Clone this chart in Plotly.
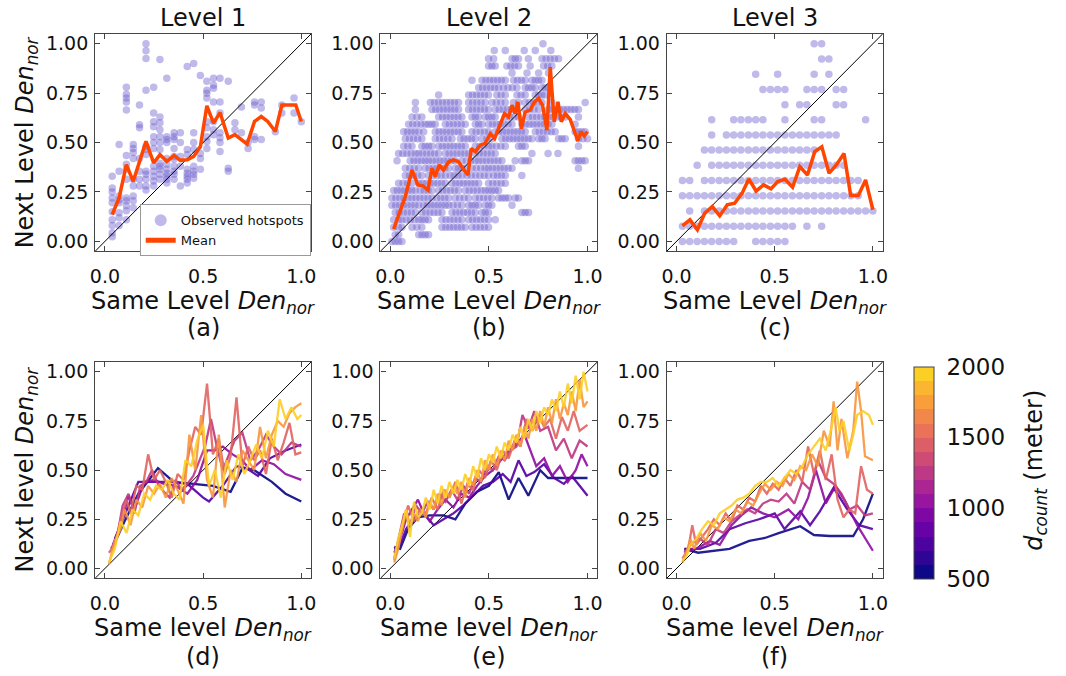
import numpy as np
import plotly.graph_objects as go
from plotly.colors import sample_colorscale

W, H = 1066, 676
FONT = "DejaVu Sans"

# ------------------------------------------------------------------ data
# (a) Level 1 observed hotspots: column x -> y values
A_COLS = {
    0.037: [0.33, 0.27, 0.25, 0.22, 0.195, 0.15, 0.11, 0.08, 0.044, 0.024],
    0.072: [0.49, 0.355, 0.23, 0.21, 0.195, 0.145, 0.12, 0.08],
    0.109: [0.78, 0.745, 0.725, 0.705, 0.665, 0.435, 0.39, 0.365, 0.315, 0.22, 0.205, 0.18, 0.155, 0.11],
    0.144: [0.49, 0.47, 0.45, 0.42, 0.315, 0.28, 0.23, 0.205, 0.17],
    0.176: [0.69, 0.59, 0.575, 0.42, 0.355, 0.315, 0.28],
    0.209: [1.0, 0.965, 0.925, 0.765, 0.48, 0.465, 0.44, 0.355, 0.34, 0.315, 0.28, 0.26],
    0.248: [0.78, 0.65, 0.605, 0.58, 0.53, 0.5, 0.47, 0.38, 0.355, 0.33, 0.305, 0.28],
    0.280: [0.92, 0.63, 0.6, 0.565, 0.53, 0.5, 0.465, 0.395, 0.38, 0.365, 0.34, 0.315],
    0.315: [0.825, 0.53, 0.515, 0.5, 0.42, 0.39, 0.365, 0.345, 0.33, 0.315, 0.295],
    0.352: [0.55, 0.53, 0.515, 0.47, 0.43, 0.415, 0.38, 0.355, 0.34, 0.315],
    0.384: [0.55, 0.5, 0.43, 0.38, 0.28],
    0.419: [0.885, 0.465, 0.44, 0.365, 0.345, 0.33, 0.315, 0.295],
    0.452: [0.9, 0.55, 0.5, 0.465, 0.38, 0.355, 0.34, 0.32],
    0.486: [0.84, 0.445, 0.42, 0.365],
    0.519: [0.81, 0.765, 0.75, 0.725, 0.605, 0.575, 0.53, 0.505, 0.47],
    0.553: [0.825, 0.79, 0.775, 0.705, 0.605, 0.565, 0.54],
    0.586: [0.825, 0.705, 0.65, 0.55, 0.525, 0.5, 0.455],
    0.628: [0.81, 0.37, 0.355],
    0.662: [0.6, 0.565],
    0.695: [0.68, 0.55],
    0.729: [0.5, 0.47],
    0.762: [0.705, 0.69, 0.53, 0.515],
    0.796: [0.705, 0.675, 0.515],
    0.868: [0.555],
    0.901: [0.69, 0.65],
    0.963: [0.725, 0.65],
    1.000: [0.605],
}
A_MEAN_X = [0.037, 0.072, 0.109, 0.144, 0.209, 0.248, 0.28, 0.315, 0.352, 0.384, 0.419, 0.452,
            0.486, 0.519, 0.553, 0.586, 0.628, 0.662, 0.724, 0.762, 0.796, 0.829, 0.868, 0.901, 0.972, 1.0]
A_MEAN_Y = [0.136, 0.22, 0.388, 0.304, 0.506, 0.397, 0.439, 0.405, 0.435, 0.41, 0.413, 0.43,
            0.48, 0.686, 0.598, 0.652, 0.523, 0.54, 0.492, 0.607, 0.632, 0.607, 0.556, 0.69, 0.69, 0.607]

# (b) Level 2 observed hotspots: row y -> runs of points (x_start, x_end), points spaced B_STEP apart
B_STEP = 0.02
B_ROWS = [
    (1.000, [(0.774, 0.774)]),
    (0.966, [(0.527, 0.527), (0.583, 0.583), (0.679, 0.679), (0.735, 0.735), (0.814, 0.814)]),
    (0.924, [(0.498, 0.524), (0.617, 0.650), (0.700, 0.700), (0.769, 0.853)]),
    (0.887, [(0.498, 0.532), (0.591, 0.650), (0.709, 0.709), (0.777, 0.819)]),
    (0.852, [(0.617, 0.617), (0.693, 0.693), (0.752, 0.752), (0.802, 0.802)]),
    (0.815, [(0.414, 0.414), (0.465, 0.583), (0.625, 0.684), (0.718, 0.769)]),
    (0.778, [(0.448, 0.549), (0.574, 0.642), (0.684, 0.735), (0.769, 0.802)]),
    (0.741, [(0.245, 0.245), (0.397, 0.498), (0.540, 0.583), (0.642, 0.684), (0.735, 0.785)]),
    (0.703, [(0.127, 0.127), (0.203, 0.346), (0.397, 0.481), (0.515, 0.583), (0.625, 0.650),
             (0.684, 0.769), (0.819, 0.819), (0.988, 0.988)]),
    (0.667, [(0.127, 0.127), (0.211, 0.346), (0.397, 0.498), (0.532, 0.633), (0.684, 0.752), (0.802, 0.954)]),
    (0.630, [(0.110, 0.160), (0.245, 0.363), (0.414, 0.448), (0.481, 0.532), (0.583, 0.650),
             (0.701, 0.887), (0.954, 0.954)]),
    (0.593, [(0.093, 0.177), (0.194, 0.228), (0.279, 0.380), (0.431, 0.465), (0.498, 0.617),
             (0.667, 0.819), (0.937, 0.937)]),
    (0.555, [(0.068, 0.144), (0.169, 0.169), (0.228, 0.363), (0.414, 0.498), (0.532, 0.684),
             (0.735, 0.836), (0.937, 0.988)]),
    (0.520, [(0.076, 0.160), (0.228, 0.313), (0.355, 0.431), (0.465, 0.515), (0.566, 0.718),
             (0.752, 0.785), (0.853, 0.887), (0.954, 1.000)]),
    (0.482, [(0.068, 0.110), (0.160, 0.211), (0.245, 0.380), (0.431, 0.498), (0.515, 0.583),
             (0.650, 0.684), (0.954, 0.954)]),
    (0.445, [(0.042, 0.127), (0.144, 0.245), (0.279, 0.397), (0.431, 0.532), (0.718, 0.718),
             (0.800, 0.800), (0.850, 0.850)]),
    (0.408, [(0.034, 0.034), (0.101, 0.177), (0.194, 0.329), (0.363, 0.431), (0.448, 0.566),
             (0.633, 0.633), (0.667, 0.701), (0.937, 0.988)]),
    (0.370, [(0.076, 0.144), (0.177, 0.296), (0.329, 0.380), (0.414, 0.481), (0.498, 0.617), (0.954, 0.954)]),
    (0.333, [(0.076, 0.160), (0.194, 0.279), (0.304, 0.363), (0.389, 0.498), (0.524, 0.583), (0.667, 0.667)]),
    (0.294, [(0.042, 0.110), (0.144, 0.279), (0.313, 0.448), (0.498, 0.583)]),
    (0.257, [(0.017, 0.127), (0.152, 0.211), (0.245, 0.346), (0.380, 0.481), (0.498, 0.549)]),
    (0.220, [(0.008, 0.211), (0.236, 0.296), (0.329, 0.397), (0.431, 0.515), (0.549, 0.600), (0.633, 0.650)]),
    (0.183, [(0.008, 0.144), (0.169, 0.279), (0.296, 0.363), (0.397, 0.448), (0.481, 0.515), (0.617, 0.617)]),
    (0.146, [(0.025, 0.127), (0.160, 0.262), (0.313, 0.431), (0.465, 0.498), (0.667, 0.701)]),
    (0.109, [(0.017, 0.042), (0.059, 0.144), (0.160, 0.194), (0.262, 0.363), (0.397, 0.498), (0.532, 0.532)]),
    (0.072, [(0.017, 0.017), (0.042, 0.059), (0.110, 0.160), (0.262, 0.380), (0.414, 0.498)]),
    (0.034, [(0.025, 0.042), (0.144, 0.194)]),
    (0.000, [(0.008, 0.059)]),
]
B_MEAN_X = [0.017, 0.042, 0.076, 0.11, 0.14, 0.166, 0.191, 0.211, 0.228, 0.248, 0.27, 0.296, 0.321,
            0.346, 0.367, 0.394, 0.41, 0.431, 0.456, 0.481, 0.507, 0.529, 0.552, 0.579, 0.6, 0.617,
            0.633, 0.647, 0.664, 0.684, 0.709, 0.731, 0.752, 0.772, 0.794, 0.811, 0.831, 0.85, 0.867,
            0.887, 0.912, 0.937, 0.951, 0.966, 0.983, 1.0]
B_MEAN_Y = [0.062, 0.129, 0.227, 0.361, 0.286, 0.281, 0.26, 0.37, 0.328, 0.387, 0.361, 0.403, 0.412,
            0.403, 0.37, 0.336, 0.47, 0.454, 0.487, 0.496, 0.546, 0.521, 0.58, 0.647, 0.63, 0.689,
            0.647, 0.706, 0.57, 0.655, 0.664, 0.706, 0.723, 0.689, 0.563, 0.882, 0.605, 0.706, 0.605,
            0.647, 0.617, 0.546, 0.509, 0.555, 0.534, 0.555]

# (c) Level 3 observed hotspots on a grid: column positions, row values, occupied columns per row
C_COL_X = [0.03, 0.067, 0.105, 0.142, 0.179, 0.217, 0.254, 0.291, 0.328, 0.366, 0.403, 0.44, 0.478,
           0.515, 0.552, 0.59, 0.627, 0.664, 0.701, 0.739, 0.776, 0.813, 0.851, 0.888, 0.925, 0.963, 1.0]
C_ROW_Y = [0.0, 0.077, 0.154, 0.231, 0.308, 0.385, 0.462, 0.538, 0.615, 0.692, 0.769, 0.846, 0.923, 1.0]
C_ROW_COLS = [
    [0, 1, 2, 3, 4, 5, 6, 7, 10, 11, 12, 13, 14],
    [0, 1, 2, 3, 4, 5, 6, 7, 8, 9, 10, 11, 12, 13, 14, 15, 17, 19],
    [1, 3, 4, 5, 6, 7, 8, 9, 10, 11, 12, 13, 14, 15, 16, 17, 18, 19, 20, 21, 22, 23, 24, 25, 26],
    [0, 1, 2, 3, 4, 5, 6, 7, 8, 9, 10, 11, 12, 13, 14, 15, 16, 17, 18, 19, 20, 21, 22, 23, 24],
    [0, 1, 3, 4, 5, 6, 7, 8, 9, 10, 11, 12, 13, 14, 15, 16, 17, 18, 19, 20, 21, 22, 23, 24],
    [2, 4, 5, 6, 7, 8, 9, 10, 11, 12, 13, 14, 15, 16, 17, 18, 19, 20, 21, 22],
    [3, 4, 5, 6, 7, 8, 9, 10, 11, 12, 13, 14, 15, 16, 17, 18],
    [4, 6, 7, 8, 9, 10, 11, 12, 13, 14, 15, 16, 17, 18, 19, 20, 21],
    [4, 7, 8, 9, 10, 11, 14, 18, 19, 25],
    [14, 16, 17, 21, 22],
    [11, 12, 13, 14, 17, 18, 19, 21, 22],
    [10, 13, 18, 20],
    [19, 20],
    [18, 19],
]
C_MEAN_X = [0.03, 0.068, 0.106, 0.144, 0.182, 0.22, 0.258, 0.296, 0.334, 0.368, 0.405, 0.443, 0.481,
            0.515, 0.552, 0.591, 0.628, 0.667, 0.704, 0.74, 0.777, 0.814, 0.853, 0.887, 0.926, 0.963, 1.0]
C_MEAN_Y = [0.079, 0.109, 0.059, 0.143, 0.176, 0.129, 0.185, 0.193, 0.244, 0.316, 0.255, 0.286, 0.266,
            0.303, 0.314, 0.274, 0.378, 0.336, 0.454, 0.479, 0.345, 0.387, 0.445, 0.232, 0.232, 0.311, 0.16]

# bottom row: mean curves per counting distance d_count (meter), (x, y) pairs
D_COUNTS = [500, 750, 1000, 1250, 1500, 1750, 2000]
D_LINES = {
    500: [(0.05, 0.13), (0.1, 0.24), (0.17, 0.38), (0.27, 0.51), (0.35, 0.44), (0.45, 0.43), (0.55, 0.42),
          (0.64, 0.39), (0.7, 0.51), (0.76, 0.5), (0.85, 0.44), (0.92, 0.38), (1.0, 0.34)],
    750: [(0.05, 0.15), (0.1, 0.27), (0.17, 0.44), (0.25, 0.44), (0.33, 0.44), (0.42, 0.43), (0.5, 0.36),
          (0.53, 0.34), (0.6, 0.42), (0.67, 0.52), (0.72, 0.51), (0.78, 0.47), (0.84, 0.56), (0.92, 0.6),
          (1.0, 0.63)],
    1000: [(0.04, 0.12), (0.08, 0.22), (0.12, 0.37), (0.15, 0.3), (0.2, 0.44), (0.25, 0.45), (0.3, 0.43),
           (0.36, 0.42), (0.42, 0.38), (0.47, 0.45), (0.52, 0.6), (0.56, 0.6), (0.6, 0.62), (0.65, 0.58),
           (0.7, 0.55), (0.74, 0.5), (0.8, 0.55), (0.86, 0.53), (0.92, 0.48), (1.0, 0.45)],
    1250: [(0.03, 0.1), (0.06, 0.15), (0.09, 0.32), (0.12, 0.38), (0.15, 0.28), (0.18, 0.42), (0.21, 0.44),
           (0.24, 0.5), (0.27, 0.43), (0.3, 0.39), (0.33, 0.36), (0.36, 0.45), (0.39, 0.4), (0.42, 0.43),
           (0.45, 0.47), (0.48, 0.55), (0.51, 0.62), (0.54, 0.76), (0.57, 0.62), (0.6, 0.5), (0.63, 0.58),
           (0.66, 0.65), (0.7, 0.69), (0.74, 0.55), (0.78, 0.6), (0.82, 0.68), (0.86, 0.62), (0.9, 0.58),
           (0.95, 0.64), (1.0, 0.62)],
    1500: [(0.02, 0.08), (0.05, 0.12), (0.08, 0.25), (0.11, 0.35), (0.13, 0.28), (0.16, 0.42), (0.19, 0.4),
           (0.22, 0.58), (0.25, 0.45), (0.28, 0.5), (0.31, 0.44), (0.34, 0.36), (0.37, 0.48), (0.4, 0.45),
           (0.43, 0.6), (0.46, 0.72), (0.49, 0.68), (0.52, 0.94), (0.55, 0.58), (0.58, 0.66), (0.61, 0.48),
           (0.64, 0.57), (0.67, 0.87), (0.7, 0.52), (0.73, 0.62), (0.76, 0.55), (0.79, 0.6), (0.82, 0.48),
           (0.85, 0.66), (0.88, 0.55), (0.91, 0.64), (0.94, 0.74), (0.97, 0.58), (1.0, 0.59)],
    1750: [(0.02, 0.02), (0.05, 0.14), (0.08, 0.2), (0.1, 0.3), (0.13, 0.22), (0.16, 0.35), (0.19, 0.31),
           (0.22, 0.42), (0.25, 0.38), (0.28, 0.43), (0.31, 0.36), (0.34, 0.46), (0.37, 0.4), (0.4, 0.33),
           (0.43, 0.68), (0.46, 0.5), (0.49, 0.78), (0.52, 0.45), (0.55, 0.36), (0.58, 0.68), (0.61, 0.31),
           (0.64, 0.5), (0.67, 0.44), (0.7, 0.6), (0.73, 0.55), (0.76, 0.5), (0.79, 0.72), (0.82, 0.56),
           (0.85, 0.68), (0.88, 0.75), (0.91, 0.72), (0.94, 0.79), (0.97, 0.82), (1.0, 0.84)],
    2000: [(0.02, 0.03), (0.05, 0.1), (0.08, 0.24), (0.11, 0.18), (0.14, 0.3), (0.17, 0.27), (0.2, 0.38),
           (0.23, 0.35), (0.26, 0.42), (0.29, 0.4), (0.32, 0.45), (0.35, 0.38), (0.38, 0.35), (0.41, 0.55),
           (0.44, 0.52), (0.47, 0.65), (0.5, 0.73), (0.53, 0.42), (0.56, 0.5), (0.59, 0.36), (0.62, 0.55),
           (0.65, 0.45), (0.68, 0.58), (0.71, 0.48), (0.74, 0.55), (0.77, 0.63), (0.8, 0.56), (0.83, 0.7),
           (0.86, 0.62), (0.89, 0.86), (0.92, 0.76), (0.95, 0.82), (0.98, 0.76), (1.0, 0.78)],
}
E_LINES = {
    500: [(0.02, 0.11), (0.05, 0.1), (0.09, 0.2), (0.14, 0.26), (0.2, 0.27), (0.27, 0.27), (0.33, 0.25),
          (0.38, 0.33), (0.44, 0.39), (0.5, 0.42), (0.55, 0.49), (0.6, 0.35), (0.65, 0.46), (0.7, 0.37),
          (0.76, 0.5), (0.8, 0.46), (0.85, 0.46), (0.92, 0.46), (1.0, 0.46)],
    750: [(0.02, 0.1), (0.05, 0.12), (0.08, 0.2), (0.12, 0.26), (0.17, 0.28), (0.22, 0.22), (0.27, 0.25),
          (0.32, 0.28), (0.37, 0.32), (0.42, 0.37), (0.47, 0.42), (0.52, 0.44), (0.57, 0.48), (0.61, 0.44),
          (0.65, 0.55), (0.69, 0.47), (0.73, 0.49), (0.78, 0.53), (0.83, 0.46), (0.88, 0.43), (0.92, 0.47),
          (0.96, 0.42), (1.0, 0.37)],
    1000: [(0.02, 0.08), (0.05, 0.15), (0.08, 0.25), (0.11, 0.3), (0.14, 0.35), (0.17, 0.28), (0.2, 0.24),
           (0.24, 0.3), (0.28, 0.35), (0.32, 0.31), (0.36, 0.38), (0.4, 0.36), (0.44, 0.42), (0.48, 0.47),
           (0.52, 0.5), (0.56, 0.55), (0.6, 0.6), (0.64, 0.63), (0.68, 0.68), (0.71, 0.6), (0.74, 0.52),
           (0.78, 0.56), (0.82, 0.47), (0.86, 0.52), (0.9, 0.44), (0.94, 0.5), (0.97, 0.58), (1.0, 0.52)],
    1250: [(0.02, 0.05), (0.04, 0.14), (0.07, 0.28), (0.1, 0.22), (0.13, 0.32), (0.16, 0.28), (0.19, 0.34),
           (0.22, 0.3), (0.25, 0.38), (0.28, 0.34), (0.31, 0.4), (0.34, 0.35), (0.37, 0.42), (0.4, 0.38),
           (0.43, 0.46), (0.46, 0.44), (0.49, 0.52), (0.52, 0.5), (0.55, 0.57), (0.58, 0.55), (0.61, 0.6),
           (0.64, 0.62), (0.67, 0.78), (0.7, 0.71), (0.73, 0.8), (0.76, 0.7), (0.8, 0.72), (0.84, 0.6),
           (0.88, 0.66), (0.92, 0.56), (0.96, 0.65), (1.0, 0.62)],
    1500: [(0.02, 0.04), (0.04, 0.12), (0.07, 0.25), (0.09, 0.32), (0.12, 0.24), (0.15, 0.3), (0.18, 0.28),
           (0.21, 0.36), (0.24, 0.3), (0.27, 0.4), (0.3, 0.36), (0.33, 0.44), (0.36, 0.33), (0.39, 0.43),
           (0.42, 0.4), (0.45, 0.5), (0.48, 0.46), (0.51, 0.55), (0.54, 0.5), (0.57, 0.6), (0.6, 0.56),
           (0.63, 0.65), (0.66, 0.62), (0.69, 0.76), (0.72, 0.7), (0.75, 0.78), (0.78, 0.72), (0.81, 0.76),
           (0.84, 0.66), (0.87, 0.77), (0.9, 0.7), (0.93, 0.8), (0.96, 0.7), (1.0, 0.73)],
    1750: [(0.02, 0.03), (0.04, 0.1), (0.06, 0.2), (0.08, 0.3), (0.1, 0.22), (0.12, 0.28), (0.14, 0.24),
           (0.16, 0.3), (0.18, 0.26), (0.2, 0.34), (0.22, 0.3), (0.24, 0.38), (0.26, 0.32), (0.28, 0.4),
           (0.3, 0.36), (0.32, 0.42), (0.34, 0.38), (0.36, 0.44), (0.38, 0.36), (0.4, 0.46), (0.42, 0.42),
           (0.44, 0.5), (0.46, 0.44), (0.48, 0.55), (0.5, 0.5), (0.52, 0.58), (0.54, 0.52), (0.56, 0.6),
           (0.58, 0.55), (0.6, 0.65), (0.62, 0.6), (0.64, 0.68), (0.66, 0.62), (0.68, 0.72), (0.7, 0.66),
           (0.72, 0.76), (0.74, 0.7), (0.76, 0.8), (0.78, 0.72), (0.8, 0.82), (0.82, 0.74), (0.84, 0.86),
           (0.86, 0.76), (0.88, 0.84), (0.9, 0.78), (0.92, 0.9), (0.94, 0.8), (0.96, 0.96), (0.98, 0.82),
           (1.0, 0.85)],
    2000: [(0.02, 0.05), (0.04, 0.15), (0.06, 0.22), (0.08, 0.3), (0.1, 0.16), (0.12, 0.34), (0.14, 0.26),
           (0.16, 0.28), (0.18, 0.36), (0.2, 0.3), (0.22, 0.4), (0.24, 0.33), (0.26, 0.42), (0.28, 0.36),
           (0.3, 0.44), (0.32, 0.38), (0.34, 0.45), (0.36, 0.4), (0.38, 0.48), (0.4, 0.42), (0.42, 0.52),
           (0.44, 0.46), (0.46, 0.56), (0.48, 0.5), (0.5, 0.58), (0.52, 0.54), (0.54, 0.62), (0.56, 0.56),
           (0.58, 0.64), (0.6, 0.6), (0.62, 0.68), (0.64, 0.64), (0.66, 0.72), (0.68, 0.66), (0.7, 0.76),
           (0.72, 0.7), (0.74, 0.8), (0.76, 0.74), (0.78, 0.82), (0.8, 0.78), (0.82, 0.86), (0.84, 0.8),
           (0.86, 0.9), (0.88, 0.82), (0.9, 0.94), (0.92, 0.84), (0.94, 0.98), (0.96, 0.86), (0.98, 1.0),
           (1.0, 0.9)],
}
F_LINES = {
    500: [(0.04, 0.1), (0.11, 0.08), (0.27, 0.1), (0.37, 0.14), (0.45, 0.155), (0.52, 0.18), (0.63, 0.215),
          (0.7, 0.17), (0.78, 0.165), (0.9, 0.165), (0.95, 0.25), (1.0, 0.38)],
    750: [(0.04, 0.1), (0.12, 0.1), (0.2, 0.13), (0.27, 0.2), (0.35, 0.23), (0.42, 0.25), (0.5, 0.28),
          (0.55, 0.2), (0.63, 0.29), (0.68, 0.22), (0.73, 0.29), (0.8, 0.41), (0.87, 0.3), (0.93, 0.22),
          (1.0, 0.2)],
    1000: [(0.04, 0.09), (0.1, 0.1), (0.17, 0.14), (0.22, 0.12), (0.28, 0.22), (0.33, 0.27), (0.38, 0.31),
           (0.44, 0.28), (0.5, 0.26), (0.57, 0.3), (0.62, 0.25), (0.67, 0.36), (0.71, 0.5), (0.76, 0.33),
           (0.81, 0.42), (0.86, 0.34), (0.92, 0.22), (1.0, 0.09)],
    1250: [(0.04, 0.08), (0.08, 0.13), (0.12, 0.15), (0.16, 0.12), (0.2, 0.2), (0.24, 0.18), (0.28, 0.24),
           (0.32, 0.27), (0.36, 0.3), (0.4, 0.28), (0.44, 0.33), (0.48, 0.35), (0.52, 0.34), (0.56, 0.38),
           (0.6, 0.33), (0.64, 0.44), (0.68, 0.4), (0.72, 0.55), (0.76, 0.46), (0.8, 0.43), (0.84, 0.38),
           (0.88, 0.3), (0.92, 0.32), (0.96, 0.27), (1.0, 0.28)],
    1500: [(0.03, 0.05), (0.06, 0.1), (0.08, 0.22), (0.1, 0.12), (0.13, 0.16), (0.16, 0.2), (0.19, 0.25),
           (0.22, 0.22), (0.25, 0.28), (0.28, 0.24), (0.31, 0.32), (0.34, 0.3), (0.37, 0.36), (0.4, 0.34),
           (0.43, 0.42), (0.46, 0.38), (0.49, 0.43), (0.52, 0.4), (0.55, 0.46), (0.58, 0.42), (0.61, 0.5),
           (0.64, 0.44), (0.67, 0.62), (0.7, 0.48), (0.73, 0.6), (0.76, 0.45), (0.79, 0.58), (0.82, 0.35),
           (0.85, 0.26), (0.88, 0.3), (0.91, 0.28), (0.94, 0.52), (0.97, 0.4), (1.0, 0.38)],
    1750: [(0.03, 0.03), (0.05, 0.08), (0.07, 0.15), (0.09, 0.1), (0.12, 0.18), (0.15, 0.14), (0.18, 0.22),
           (0.21, 0.2), (0.24, 0.26), (0.27, 0.24), (0.3, 0.3), (0.33, 0.28), (0.36, 0.34), (0.39, 0.32),
           (0.42, 0.38), (0.45, 0.43), (0.48, 0.4), (0.51, 0.44), (0.54, 0.42), (0.57, 0.48), (0.6, 0.45),
           (0.63, 0.52), (0.66, 0.5), (0.69, 0.58), (0.72, 0.52), (0.75, 0.7), (0.78, 0.62), (0.8, 0.85),
           (0.82, 0.6), (0.84, 0.76), (0.87, 0.56), (0.9, 0.7), (0.92, 0.95), (0.94, 0.8), (0.96, 0.57),
           (1.0, 0.55)],
    2000: [(0.03, 0.04), (0.05, 0.06), (0.07, 0.12), (0.1, 0.15), (0.13, 0.2), (0.16, 0.24), (0.19, 0.22),
           (0.22, 0.28), (0.25, 0.3), (0.28, 0.32), (0.31, 0.35), (0.34, 0.36), (0.37, 0.38), (0.4, 0.42),
           (0.43, 0.44), (0.46, 0.44), (0.49, 0.46), (0.52, 0.42), (0.55, 0.46), (0.58, 0.5), (0.61, 0.48),
           (0.64, 0.52), (0.67, 0.58), (0.7, 0.62), (0.73, 0.66), (0.76, 0.6), (0.79, 0.72), (0.81, 0.82),
           (0.83, 0.7), (0.85, 0.75), (0.88, 0.6), (0.9, 0.68), (0.92, 0.78), (0.95, 0.8), (0.98, 0.78),
           (1.0, 0.73)],
}

LEVEL_TITLES = ["Level 1", "Level 2", "Level 3"]
PANEL_LABELS = ["(a)", "(b)", "(c)", "(d)", "(e)", "(f)"]
X_TICKS = [0.0, 0.5, 1.0]
Y_TICKS = [0.0, 0.25, 0.5, 0.75, 1.0]
CBAR_TICKS = [500, 1000, 1500, 2000]
AX_RANGE = [-0.05, 1.05]

# ------------------------------------------------------------------ styling / layout
PT_COLOR = "rgba(106,90,205,0.42)"
MEAN_COLOR = "#ff4500"
PLASMA_MAX = 0.9
N_BANDS = 15

X_PX = [(91, 309), (379, 598), (668, 886)]
Y_PX = [(33, 251), (362, 579)]


def px_x(p):
    return p / W


def px_y(p):
    return 1 - p / H


def dcolor(d):
    t = (d - 500) / 1500 * PLASMA_MAX
    return sample_colorscale("Plasma", [t])[0]


fig = go.Figure()

layout = dict(
    width=W, height=H, margin=dict(l=0, r=0, t=0, b=0),
    paper_bgcolor="white", plot_bgcolor="white",
    font=dict(family=FONT, color="#111"),
    showlegend=True,
)

for i in range(6):
    r, c = divmod(i, 3)
    sfx = "" if i == 0 else str(i + 1)
    x0, x1 = X_PX[c]
    y0, y1 = Y_PX[r]
    common = dict(range=AX_RANGE, showgrid=False, zeroline=False, showline=True, linecolor="#444",
                  linewidth=1.2, mirror="ticks", ticks="inside", ticklen=5, tickwidth=1.2,
                  tickcolor="#444", tickfont=dict(size=19, family=FONT, color="#111"), fixedrange=True)
    layout["xaxis" + sfx] = dict(common, domain=[px_x(x0), px_x(x1)], anchor="y" + sfx,
                                 tickvals=X_TICKS, tickformat=".1f", ticklabelstandoff=8)
    layout["yaxis" + sfx] = dict(common, domain=[px_y(y1), px_y(y0)], anchor="x" + sfx,
                                 tickvals=Y_TICKS, tickformat=".2f", ticklabelstandoff=2)

fig.update_layout(**layout)


def axn(i):
    return ("x" if i == 0 else "x%d" % (i + 1)), ("y" if i == 0 else "y%d" % (i + 1))


def diag(i):
    xa, ya = axn(i)
    fig.add_trace(go.Scatter(x=AX_RANGE, y=AX_RANGE, mode="lines", xaxis=xa, yaxis=ya,
                             line=dict(color="black", width=1), showlegend=False, hoverinfo="skip"))


# ---- top row scatters
a_x, a_y = [], []
for xv, ys in A_COLS.items():
    for yv in ys:
        a_x.append(xv)
        a_y.append(yv)

b_x, b_y = [], []
for yv, runs in B_ROWS:
    for xs, xe in runs:
        n = int(round((xe - xs) / B_STEP))
        for k in range(n + 1):
            b_x.append(xs + k * (xe - xs) / n if n > 0 else xs)
            b_y.append(yv)

c_x, c_y = [], []
for yv, cols in zip(C_ROW_Y, C_ROW_COLS):
    for ci in cols:
        c_x.append(C_COL_X[ci])
        c_y.append(yv)

tops = [(a_x, a_y, A_MEAN_X, A_MEAN_Y), (b_x, b_y, B_MEAN_X, B_MEAN_Y), (c_x, c_y, C_MEAN_X, C_MEAN_Y)]
for i, (sx, sy, mx, my) in enumerate(tops):
    xa, ya = axn(i)
    fig.add_trace(go.Scatter(x=sx, y=sy, mode="markers", xaxis=xa, yaxis=ya, name="Observed hotspots",
                             marker=dict(size=7.5, color=PT_COLOR, line=dict(width=0)),
                             showlegend=(i == 0)))
    diag(i)
    fig.add_trace(go.Scatter(x=mx, y=my, mode="lines", xaxis=xa, yaxis=ya, name="Mean",
                             line=dict(color=MEAN_COLOR, width=3.5), showlegend=(i == 0)))

# ---- bottom row lines
for j, lines in enumerate([D_LINES, E_LINES, F_LINES]):
    i = 3 + j
    xa, ya = axn(i)
    diag(i)
    for d in D_COUNTS:
        pts = lines[d]
        fig.add_trace(go.Scatter(x=[p[0] for p in pts], y=[p[1] for p in pts], mode="lines",
                                 xaxis=xa, yaxis=ya, line=dict(color=dcolor(d), width=2.3),
                                 opacity=0.9, showlegend=False, hoverinfo="skip"))

# ---- discrete colorbar
band_cols = sample_colorscale("Plasma", [PLASMA_MAX * k / (N_BANDS - 1) for k in range(N_BANDS)])
cscale = []
for k, col in enumerate(band_cols):
    cscale.append([k / N_BANDS, col])
    cscale.append([(k + 1) / N_BANDS, col])
cb_top, cb_bot = 367, 579
fig.add_trace(go.Scatter(
    x=[None], y=[None], mode="markers", xaxis="x6", yaxis="y6", showlegend=False, hoverinfo="skip",
    marker=dict(color=[500], cmin=500, cmax=2000, colorscale=cscale, showscale=True,
                colorbar=dict(x=px_x(918), xanchor="left", xpad=0, ypad=0, thickness=20,
                              lenmode="pixels", len=cb_bot - cb_top, y=px_y((cb_top + cb_bot) / 2),
                              yanchor="middle", outlinewidth=1, outlinecolor="#444",
                              tickvals=CBAR_TICKS, ticks="outside", ticklen=8, tickcolor="rgba(0,0,0,0)",
                              tickfont=dict(size=23, family=FONT, color="#111")))))

# ---- legend
fig.update_layout(legend=dict(x=px_x(136), y=px_y(204), xanchor="left", yanchor="top",
                              bgcolor="white", bordercolor="#999", borderwidth=1,
                              font=dict(size=13, family=FONT, color="#111"), itemsizing="constant",
                              tracegroupgap=0))

# ---- text annotations
ann = []
DEN = "<i>Den</i><sub><i>nor</i></sub>"
for c in range(3):
    cx = px_x(sum(X_PX[c]) / 2)
    ann.append(dict(text=LEVEL_TITLES[c], x=cx, y=px_y(17), font=dict(size=24)))
    ann.append(dict(text="Same Level " + DEN, x=cx, y=px_y(302), font=dict(size=24)))
    ann.append(dict(text="Same level " + DEN, x=cx, y=px_y(630), font=dict(size=24)))
    ann.append(dict(text=PANEL_LABELS[c], x=cx, y=px_y(328), font=dict(size=24)))
    ann.append(dict(text=PANEL_LABELS[3 + c], x=cx, y=px_y(658), font=dict(size=24)))
ann.append(dict(text="Next Level " + DEN, x=px_x(22), y=px_y(142), textangle=-90, font=dict(size=24)))
ann.append(dict(text="Next level " + DEN, x=px_x(22), y=px_y(470), textangle=-90, font=dict(size=24)))
ann.append(dict(text="<i>d</i><sub><i>count</i></sub> (meter)", x=px_x(1040), y=px_y(471),
                textangle=-90, font=dict(size=24)))
for a in ann:
    a.update(xref="paper", yref="paper", showarrow=False, xanchor="center", yanchor="middle")
    a["font"].update(family=FONT, color="#111")
fig.update_layout(annotations=ann)

fig.write_html("out.html")
